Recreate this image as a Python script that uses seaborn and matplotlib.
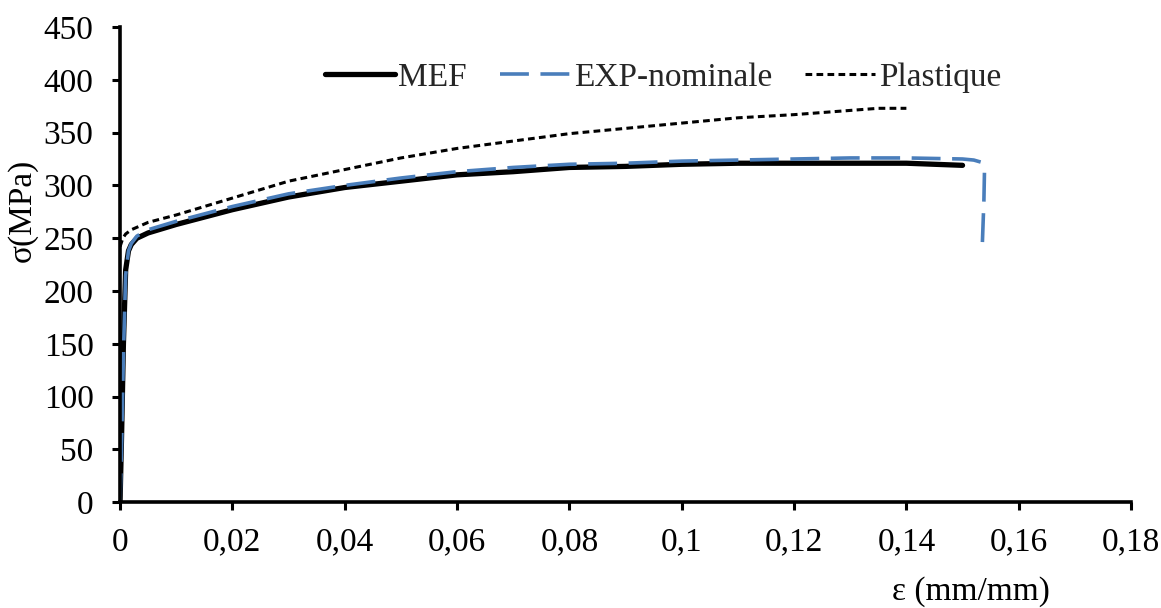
import matplotlib
matplotlib.use("Agg")
import matplotlib.pyplot as plt
import seaborn as sns
import numpy as np
from matplotlib.ticker import FuncFormatter, MultipleLocator

# Data
mef_x = [0, 0.0003, 0.0006, 0.001, 0.0015, 0.002, 0.003, 0.005, 0.01, 0.015, 0.02, 0.03, 0.04, 0.05, 0.06, 0.07, 0.08, 0.09, 0.10, 0.11, 0.12, 0.13, 0.14, 0.15]
mef_y = [0, 70, 150, 220, 238, 244, 250, 255, 263, 270, 277, 289, 298, 304, 310, 313, 317, 318, 320, 321, 321, 321, 321, 319]

exp_x = [0, 0.0003, 0.0006, 0.001, 0.0015, 0.002, 0.003, 0.005, 0.01, 0.015, 0.02, 0.03, 0.04, 0.05, 0.06, 0.07, 0.08, 0.09, 0.10, 0.11, 0.12, 0.13, 0.14, 0.15, 0.152, 0.1533, 0.1539, 0.1538, 0.1535]
exp_y = [0, 60, 140, 215, 238, 245, 252, 258, 266, 273, 280, 292, 300, 307, 313, 317, 320, 321, 323, 324, 325, 326, 326, 325, 324, 322, 312, 285, 241]

pla_x = [0, 0.0005, 0.001, 0.002, 0.005, 0.01, 0.02, 0.03, 0.04, 0.05, 0.06, 0.07, 0.08, 0.09, 0.10, 0.11, 0.12, 0.13, 0.135, 0.14]
pla_y = [242, 250, 254, 258, 265, 272, 288, 304, 315, 326, 335, 342, 349, 354, 359, 364, 367, 371, 373, 373]

labels = ["MEF", "EXP-nominale", "Plastique"]
x_ticks = [0, 0.02, 0.04, 0.06, 0.08, 0.1, 0.12, 0.14, 0.16, 0.18]

sns.set_theme(style="white")
plt.rcParams['font.family'] = ['Liberation Serif', 'DejaVu Serif']

fig = plt.figure(figsize=(11.61, 6.08), dpi=100)
ax = fig.add_axes([0.1034, 0.174, 0.8708, 0.7816])

sns.lineplot(x=mef_x, y=mef_y, sort=False, estimator=None, ax=ax, color="black", lw=3.8, label=labels[0])
sns.lineplot(x=exp_x, y=exp_y, sort=False, estimator=None, ax=ax, color="#4A7EBB", lw=2.6, label=labels[1])
sns.lineplot(x=pla_x, y=pla_y, sort=False, estimator=None, ax=ax, color="black", lw=2.2, label=labels[2])
lines = ax.get_lines()
lines[1].set_dashes([8, 3.2])
lines[2].set_dashes([2.2, 1.4])

ax.set_xlim(0, 0.18)
ax.set_ylim(0, 450)
ax.set_xticks(x_ticks)
ax.yaxis.set_major_locator(MultipleLocator(50))
ax.xaxis.set_major_formatter(FuncFormatter(lambda v, p: ("%g" % round(v, 2)).replace(".", ",")))

for s in ["top", "right"]:
    ax.spines[s].set_visible(False)
for s in ["left", "bottom"]:
    ax.spines[s].set_color("black")
    ax.spines[s].set_linewidth(2.6)

ax.tick_params(axis="both", which="major", direction="out", length=6, width=2.2, color="black",
               labelsize=24, labelcolor="black", left=True, bottom=True)
ax.tick_params(axis="x", pad=12)
ax.tick_params(axis="y", pad=13)

ax.set_xlabel("ε (mm/mm)", fontsize=24, color="black")
ax.xaxis.set_label_coords(0.842, -0.155)
ax.set_ylabel("σ(MPa)", fontsize=24, color="black")
ax.yaxis.set_label_coords(-0.081, 0.615)

leg = ax.legend(loc="center", bbox_to_anchor=(0.537, 0.893), ncol=3, frameon=False,
                fontsize=24, handlelength=2.1, handletextpad=0.1, columnspacing=1.0,
                borderpad=0, borderaxespad=0)

fig.savefig("out.png", dpi=100)
